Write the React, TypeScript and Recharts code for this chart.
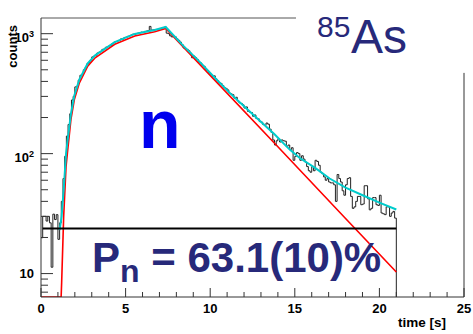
import React from 'react';
import { ComposedChart, Line, XAxis, YAxis, ReferenceLine } from 'recharts';

// ---- data ----
const BIN_WIDTH = 0.1; // s
const HIST_END = 21;
const histCounts = [
  19.9, 30, 30, 27.4, 30, 26.5, 11.3, 31.3, 28.2, 31, 19.3, 26.5,
  40, 62, 95, 140, 175, 215, 280, 300, 360, 365, 410, 450, 455, 500, 520, 560, 575, 600,
  640, 650, 660, 690, 700, 710, 740, 745, 770, 780, 790, 800, 830, 850, 860, 870, 880, 905,
  900, 930, 935, 950, 960, 975, 990, 985, 1000, 1010, 1020, 1030, 1025, 1045, 1050, 1060,
  1150, 1070, 1075, 1080, 1085, 1090, 1100, 1110, 1120, 1135,
  1010, 1000, 960, 940,
  955, 940, 905, 880, 850, 810, 760, 745, 740, 720, 690, 630, 650, 630, 610, 580, 570, 545,
  535, 505, 490, 470, 455, 440, 445, 420, 405, 390, 385, 370, 355, 350, 340, 320, 315, 310,
  290, 295, 275, 265, 262, 255, 240, 245, 225, 222, 220, 205, 210, 196, 195, 185, 183, 175,
  172, 180, 176, 160, 150, 130, 118, 128, 133, 125, 130, 128, 127, 115, 118, 108, 112, 88,
  95, 102, 100, 88, 96, 90, 85, 78, 72, 70, 78, 72, 88, 86, 80, 70, 68, 64, 60, 62, 58, 57,
  57, 55, 40, 67, 62, 58, 49, 45, 55, 62, 63, 44, 35, 36, 40, 44, 44, 37.5, 38, 54, 54, 42,
  34, 35, 43, 43, 37.5, 37, 45, 32, 31.5, 31, 36, 36, 30, 32, 33, 29,
];

const redFitT = [0, 1.19, 1.22, 1.34, 1.48, 1.56, 1.77, 1.97, 2.27, 2.76, 3.2, 4.36, 5.54, 6.72, 7.37, 10, 14, 18, 21];
const redFitV = [6.38, 6.38, 8.4, 30, 78, 101, 193, 282, 389, 535, 630, 815, 957, 1039, 1107, 449, 114, 28.8, 10.3];

const cyanFitT = [1.1, 1.22, 1.34, 1.48, 1.56, 1.77, 1.97, 2.27, 2.76, 3.2, 4.36, 5.54, 6.72, 7.37, 8.4, 9.38, 10.2, 11.15, 12.0, 12.93, 13.8, 14.7, 15.29, 16.2, 17.06, 18.0, 19.01, 20, 21];
const cyanFitV = [23, 30, 50, 100, 125, 215, 305, 415, 565, 660, 850, 995, 1075, 1137, 795, 582, 440, 321, 248, 188, 145, 108, 92, 76, 62, 52, 45, 39, 34.2];

const bgLevel = 23.8;
const bgRange = [0.1, 21];

const xTicks = [0, 1, 2, 3, 4, 5, 6, 7, 8, 9, 10, 11, 12, 13, 14, 15, 16, 17, 18, 19, 20, 21, 22, 23, 24, 25];
const yMajor = [10, 100, 1000];
const yTicks = [7, 8, 9, 10, 20, 30, 40, 50, 60, 70, 80, 90, 100, 200, 300, 400, 500, 600, 700, 800, 900, 1000];
const Y_MIN = 6.38;
const Y_MAX = 1351;
const X_MAX = 25;

// ---- derived tables ----
const histData = histCounts.map((c, i) => ({ t: +(i * BIN_WIDTH).toFixed(2), v: c }));
histData.push({ t: HIST_END, v: Y_MIN });
const redData = redFitT.map((t, i) => ({ t, v: redFitV[i] }));
const cyanData = cyanFitT.map((t, i) => ({ t, v: cyanFitV[i] }));
const bgData = bgRange.map((t) => ({ t, v: bgLevel }));

const FONT = '"Liberation Sans", Arial, Helvetica, sans-serif';
const NAVY = '#27297a';
const AXIS = '#333';

const XTick = (props: any) => {
  const { x, y, payload } = props;
  const v = payload.value;
  const major = v % 5 === 0;
  return (
    <g>
      <line x1={x} x2={x} y1={y} y2={y - (major ? 9 : 5)} stroke={AXIS} strokeWidth={1} />
      {major && (
        <text x={x} y={y + 15.5} textAnchor="middle" fontFamily={FONT} fontWeight="bold" fontSize={13} fill="#000">
          {v}
        </text>
      )}
    </g>
  );
};

const YTick = (props: any) => {
  const { x, y, payload } = props;
  const v = payload.value;
  const major = yMajor.includes(v);
  const exp = v === 100 ? '2' : v === 1000 ? '3' : '';
  return (
    <g>
      <line x1={x} x2={x + (major ? 12 : 7)} y1={y} y2={y} stroke={AXIS} strokeWidth={1} />
      {v === 10 && (
        <text x={x - 7} y={y + 4.5} textAnchor="end" fontFamily={FONT} fontWeight="bold" fontSize={13} fill="#000">
          10
        </text>
      )}
      {exp && (
        <g>
          <text x={x - 12} y={y + 8.5} textAnchor="end" fontFamily={FONT} fontWeight="bold" fontSize={13} fill="#000">
            10
          </text>
          <text x={x - 12} y={y + 3} textAnchor="start" fontFamily={FONT} fontWeight="bold" fontSize={9} fill="#000">
            {exp}
          </text>
        </g>
      )}
    </g>
  );
};

export default function App() {
  return (
    <div style={{ position: 'absolute', left: 0, top: 0, width: 473, height: 334, background: '#fff' }}>
      <ComposedChart width={473} height={334} margin={{ top: 18, right: 9, left: 0, bottom: 0 }}>
        <XAxis
          dataKey="t"
          type="number"
          domain={[0, X_MAX]}
          ticks={xTicks}
          interval={0}
          allowDataOverflow
          height={37}
          tickSize={0}
          tickMargin={0}
          tickLine={false}
          axisLine={{ stroke: AXIS, strokeWidth: 1 }}
          tick={<XTick />}
        />
        <YAxis
          dataKey="v"
          type="number"
          scale="log"
          domain={[Y_MIN, Y_MAX]}
          ticks={yTicks}
          interval={0}
          allowDataOverflow
          width={41}
          tickSize={0}
          tickMargin={0}
          tickLine={false}
          axisLine={{ stroke: AXIS, strokeWidth: 1 }}
          tick={<YTick />}
        />
        <ReferenceLine
          segment={[{ x: 0, y: Y_MAX }, { x: 15.07, y: Y_MAX }]}
          stroke="#555"
          strokeWidth={1}
          ifOverflow="visible"
        />
        <ReferenceLine
          segment={[{ x: X_MAX, y: 471 }, { x: X_MAX, y: Y_MIN }]}
          stroke={AXIS}
          strokeWidth={1}
          ifOverflow="visible"
        />
        <Line
          data={histData}
          dataKey="v"
          type="stepAfter"
          stroke="#222"
          strokeWidth={1}
          dot={false}
          activeDot={false}
          isAnimationActive={false}
        />
        <Line
          data={redData}
          dataKey="v"
          type="linear"
          stroke="#ff0000"
          strokeWidth={1.6}
          dot={false}
          activeDot={false}
          isAnimationActive={false}
        />
        <Line
          data={cyanData}
          dataKey="v"
          type="linear"
          stroke="#00cccc"
          strokeWidth={2}
          dot={false}
          activeDot={false}
          isAnimationActive={false}
        />
        <Line
          data={bgData}
          dataKey="v"
          type="linear"
          stroke="#000"
          strokeWidth={2}
          dot={false}
          activeDot={false}
          isAnimationActive={false}
        />
      </ComposedChart>
      <svg
        width={473}
        height={334}
        style={{ position: 'absolute', left: 0, top: 0, pointerEvents: 'none' }}
      >
        <text x={17} y={25} transform="rotate(-90 17 25)" textAnchor="end" fontFamily={FONT} fontWeight="bold" fontSize={13} fill="#000">
          counts
        </text>
        <text x={446} y={327} textAnchor="end" fontFamily={FONT} fontWeight="bold" fontSize={13.5} fill="#000">
          time [s]
        </text>
        <text x={139} y={148} fontFamily={FONT} fontWeight="bold" fontSize={68} fill="#0000ee">
          n
        </text>
        <text x={317} y={37} fontFamily={FONT} fontSize={30} fill={NAVY}>
          85
        </text>
        <text x={351} y={53} fontFamily={FONT} fontSize={48} fill={NAVY}>
          As
        </text>
        <text x={92} y={272} fontFamily={FONT} fontWeight="bold" fontSize={42} fill={NAVY}>
          P
          <tspan dy={10} fontSize={32}>n</tspan>
          <tspan dy={-10}> = 63.1(10)%</tspan>
        </text>
      </svg>
    </div>
  );
}
